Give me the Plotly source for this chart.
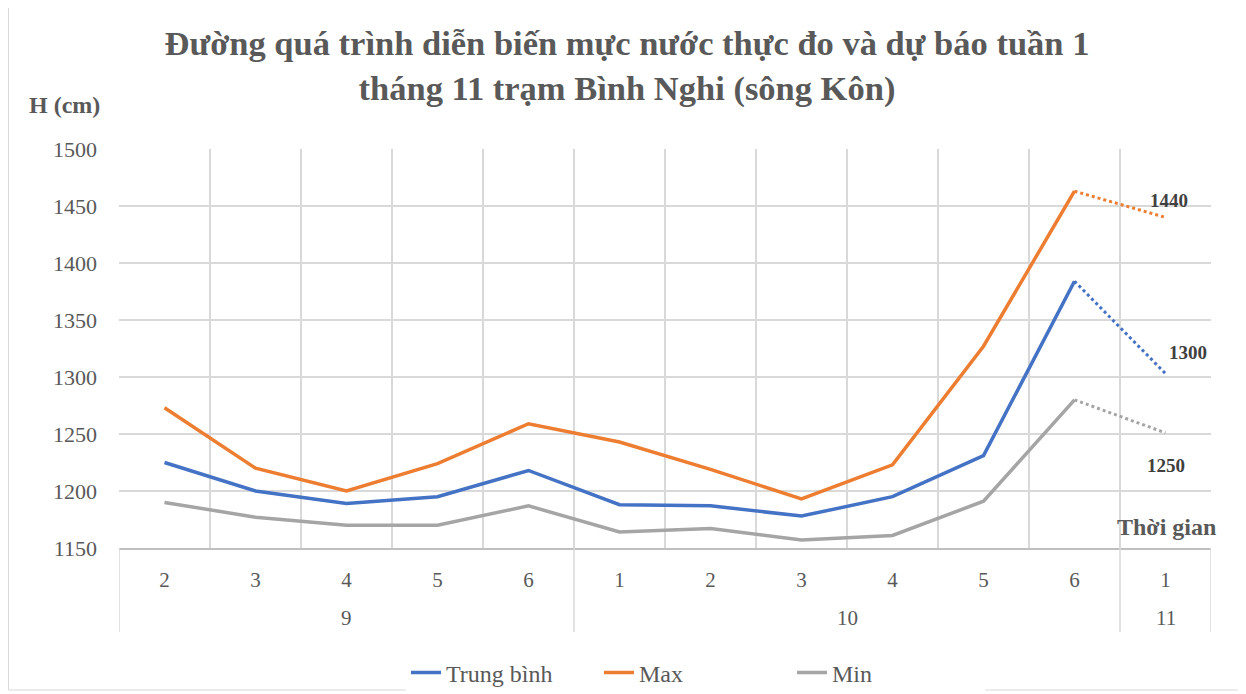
import plotly.graph_objects as go

months = ["9"] * 5 + ["10"] * 6 + ["11"]
weeks = ["2", "3", "4", "5", "6", "1", "2", "3", "4", "5", "6", "1"]
month_labels = ["9", "10", "11"]

trung_binh = [1225, 1200, 1189, 1195, 1218, 1188, 1187, 1178, 1195, 1231, 1384]
max_vals = [1273, 1220, 1200, 1224, 1259, 1243, 1219, 1193, 1223, 1327, 1463]
min_vals = [1190, 1177, 1170, 1170, 1187, 1164, 1167, 1157, 1161, 1191, 1280]

fc_tb = [1384, 1303]
fc_max = [1463, 1440]
fc_min = [1280, 1251]
fc_labels = ["1300", "1440", "1250"]

cats = [m + "-" + w for m, w in zip(months, weeks)]
obs_cats = cats[:11]
fc_cats = cats[10:12]

colors = {"tb": "#4472C4", "max": "#ED7D31", "min": "#A5A5A5"}
FONT = "Liberation Serif, Times New Roman, serif"
GREY = "#595959"
GRID = "#d9d9d9"

# the page renders with an 8px body margin, so the figure is drawn 8px smaller/offset
W, H = 1238, 686
L, R, T, B = 111, 35, 141, 146
PW = W - L - R
PH = H - T - B

fig = go.Figure()
for name, vals, c in [("Trung bình", trung_binh, colors["tb"]),
                      ("Max", max_vals, colors["max"]),
                      ("Min", min_vals, colors["min"])]:
    fig.add_trace(go.Scatter(x=obs_cats, y=vals, mode="lines", name=name,
                             line=dict(color=c, width=3.5)))
for vals, c in [(fc_tb, colors["tb"]), (fc_max, colors["max"]), (fc_min, colors["min"])]:
    fig.add_trace(go.Scatter(x=fc_cats, y=vals, mode="lines", showlegend=False,
                             line=dict(color=c, width=3, dash="dot"), hoverinfo="skip"))

lab_font = dict(family=FONT, size=19, color="#404040")
fig.add_annotation(x=fc_cats[1], y=fc_tb[1], text="<b>" + fc_labels[0] + "</b>", showarrow=False,
                   xshift=22, yshift=21, font=lab_font)
fig.add_annotation(x=fc_cats[1], y=fc_max[1], text="<b>" + fc_labels[1] + "</b>", showarrow=False,
                   xshift=3, yshift=17, font=lab_font)
fig.add_annotation(x=fc_cats[1], y=fc_min[1], text="<b>" + fc_labels[2] + "</b>", showarrow=False,
                   xshift=0, yshift=-33, font=lab_font)

fig.add_annotation(xref="paper", yref="paper", x=(1210 - L) / PW, y=21 / PH, xanchor="right", yanchor="middle",
                   text="<b>Thời gian</b>", showarrow=False,
                   font=dict(family=FONT, size=24, color=GREY))
fig.add_annotation(xref="paper", yref="paper", x=(19 - L) / PW, y=(PH + 44) / PH, xanchor="left", yanchor="middle",
                   text="<b>H (cm)</b>", showarrow=False,
                   font=dict(family=FONT, size=24, color=GREY))

# month group labels (second level of category axis)
groups = {}
for i, m in enumerate(months):
    groups.setdefault(m, []).append(i)
for m in month_labels:
    idx = groups[m]
    fig.add_annotation(x=(idx[0] + idx[-1]) / 2, xref="x", yref="paper", y=-70 / PH,
                       text=m, showarrow=False, yanchor="middle",
                       font=dict(family=FONT, size=21, color=GREY))
# group dividers
bounds = [-0.5] + [groups[m][-1] + 0.5 for m in month_labels]
for b in bounds:
    fig.add_shape(type="line", xref="x", yref="paper", x0=b, x1=b, y0=0, y1=-84 / PH,
                  line=dict(color=GRID, width=1.5))

# outer chart border
fig.add_shape(type="rect", xref="paper", yref="paper",
              x0=(0.5 - L) / PW, x1=(1232 - L) / PW,
              y0=-(682 - T - PH) / PH, y1=(PH + T + 10) / PH,
              line=dict(color=GRID, width=1))

fig.update_layout(
    width=W, height=H,
    margin=dict(l=L, r=R, t=T, b=B, autoexpand=False),
    paper_bgcolor="white", plot_bgcolor="white",
    title=dict(text="<b>Đường quá trình diễn biến mực nước thực đo và dự báo tuần 1<br>tháng 11 trạm Bình Nghi (sông Kôn)</b>",
               x=0.5, xanchor="center", xref="container", yref="container", y=0.931, yanchor="top",
               font=dict(family=FONT, size=34.5, color=GREY)),
    font=dict(family=FONT, color=GREY),
    legend=dict(orientation="h", x=(398 - L) / PW, xanchor="left", y=-125 / PH, yanchor="middle",
                font=dict(family=FONT, size=24, color=GREY),
                entrywidth=148, entrywidthmode="pixels"),
    showlegend=True,
)
fig.update_yaxes(range=[1150, 1500], dtick=50, showgrid=True, gridcolor=GRID, gridwidth=1.5,
                 zeroline=False, tickfont=dict(family=FONT, size=22, color=GREY),
                 ticks="", ticklabelstandoff=21, showline=False, automargin=False)
fig.update_xaxes(type="category", categoryorder="array", categoryarray=cats,
                 tickvals=cats, ticktext=weeks, range=[-0.5, 11.5],
                 showgrid=True, gridcolor=GRID, gridwidth=1.5,
                 tickson="boundaries", showline=True, linecolor="#bfbfbf", linewidth=1.5,
                 tickfont=dict(family=FONT, size=21, color=GREY),
                 ticks="", ticklabelstandoff=12, automargin=False)

fig.write_html("out.html")
